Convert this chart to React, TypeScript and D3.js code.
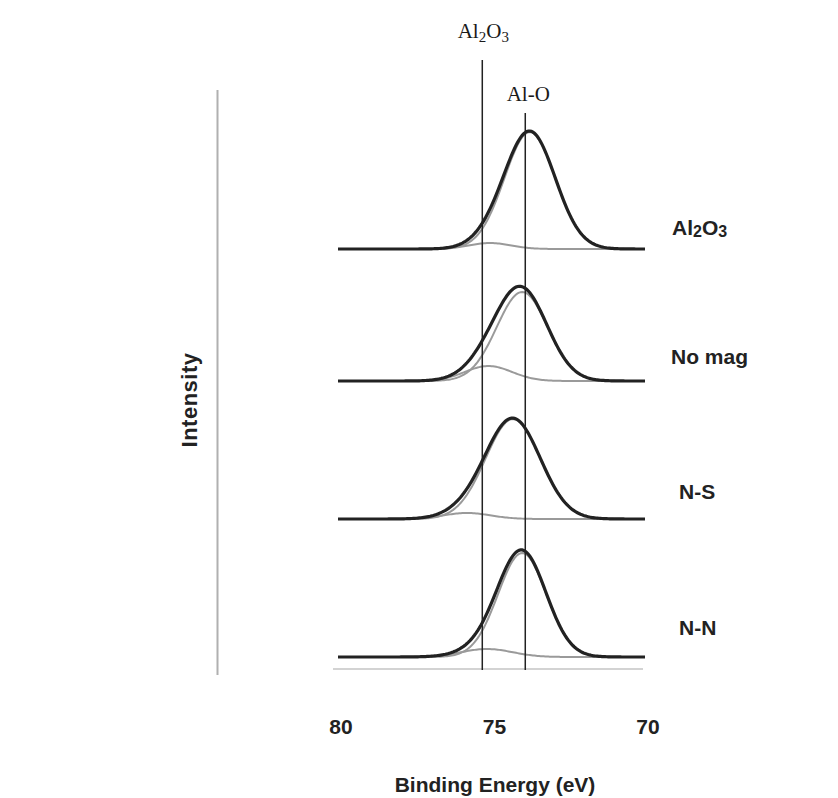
import React from "react";
import * as d3 from "d3";

// ---- data ----
const samples = ["Al2O3", "No mag", "N-S", "N-N"];
const baselineOffsets = [4.2, 2.88, 1.5, 0.12];
const mainCenters = [73.75, 74.0, 74.3, 74.0];
const mainFwhm = [1.95, 1.95, 2.1, 1.85];
const mainHeights = [1.17, 0.89, 1.0, 1.04];
const minorCenters = [75.05, 75.1, 75.8, 75.15];
const minorFwhm = [1.6, 1.8, 1.8, 1.95];
const minorHeights = [0.06, 0.15, 0.06, 0.08];
const componentStart = [76.7, 77.4, 78.1, 77.75];
const componentEnd = 70.1;
const xTicks = [80, 75, 70];
const refLabels = ["Al2O3", "Al-O"];
const refEnergies = [75.3, 73.9];
const refTops = [6.09, 5.56];

const W = 838;
const H = 798;

const x = d3.scaleLinear().domain([80, 70]).range([338, 645]);
const y = d3.scaleLinear().domain([0, 6]).range([669, 69]);

const gauss = (e: number, c: number, fwhm: number, h: number) => {
  const s = fwhm / 2.3548;
  return h * Math.exp(-0.5 * ((e - c) / s) ** 2);
};

const grid = d3.range(80, 69.99, -0.05);

const line = d3
  .line<[number, number]>()
  .x((d) => x(d[0]))
  .y((d) => y(d[1]))
  .curve(d3.curveLinear);

function Chem({ text, sub }: { text: string; sub: number }) {
  const parts = text.split(/(\d)/).filter((p) => p.length);
  return (
    <>
      {parts.map((p, i) =>
        /\d/.test(p) ? (
          <tspan key={i} fontSize={sub} dy={4}>
            {p}
          </tspan>
        ) : (
          <tspan key={i} dy={i > 0 ? -4 : 0}>
            {p}
          </tspan>
        )
      )}
    </>
  );
}

export default function App() {
  const labelY = [229, 358, 493, 629];
  const labelX = [672, 671, 679, 679];
  const sans = "Liberation Sans, Arial, sans-serif";
  return (
    <svg
      width={W}
      height={H}
      style={{ position: "absolute", left: 0, top: 0, background: "#fff" }}
    >
      {/* intensity axis line */}
      <line x1={217.5} x2={217.5} y1={90} y2={675} stroke="#b0b0b0" strokeWidth={2} />
      <text
        transform="translate(197,400) rotate(-90)"
        textAnchor="middle"
        fontFamily={sans}
        fontWeight="bold"
        fontSize={22}
        letterSpacing={0.5}
        fill="#222"
      >
        Intensity
      </text>

      {/* bottom axis line */}
      <line x1={333} x2={643} y1={y(0)} y2={y(0)} stroke="#c4c4c4" strokeWidth={1.5} />

      {samples.map((s, i) => {
        const base = baselineOffsets[i];
        const comp = grid.filter((e) => e <= componentStart[i] && e >= componentEnd);
        const mainPts: [number, number][] = comp.map((e) => [
          e,
          base + gauss(e, mainCenters[i], mainFwhm[i], mainHeights[i]),
        ]);
        const minorPts: [number, number][] = comp.map((e) => [
          e,
          base + gauss(e, minorCenters[i], minorFwhm[i], minorHeights[i]),
        ]);
        const envPts: [number, number][] = grid.map((e) => [
          e,
          base +
            gauss(e, mainCenters[i], mainFwhm[i], mainHeights[i]) +
            gauss(e, minorCenters[i], minorFwhm[i], minorHeights[i]),
        ]);
        return (
          <g key={s}>
            <path d={line(minorPts) || ""} fill="none" stroke="#9a9a9a" strokeWidth={2} />
            <path d={line(mainPts) || ""} fill="none" stroke="#9a9a9a" strokeWidth={2} />
            <path d={line(envPts) || ""} fill="none" stroke="#222" strokeWidth={3.2} />
          </g>
        );
      })}

      {/* reference lines */}
      {refEnergies.map((e, i) => (
        <line
          key={i}
          x1={x(e)}
          x2={x(e)}
          y1={y(refTops[i])}
          y2={y(-0.01)}
          stroke="#222"
          strokeWidth={1.5}
        />
      ))}
      {refLabels.map((l, i) => (
        <text
          key={l}
          x={x(refEnergies[i]) + (i === 0 ? 1 : 3)}
          y={y(refTops[i]) - (i === 0 ? 22 : 12)}
          textAnchor="middle"
          fontFamily="Liberation Serif, Times New Roman, serif"
          fontSize={21}
          fill="#1a1a1a"
        >
          <Chem text={l} sub={15} />
        </text>
      ))}

      {/* sample labels */}
      {samples.map((s, i) => (
        <text
          key={s}
          x={labelX[i]}
          y={labelY[i]}
          dominantBaseline="middle"
          fontFamily={sans}
          fontWeight="bold"
          fontSize={21}
          fill="#222"
        >
          <Chem text={s} sub={16} />
        </text>
      ))}

      {/* x tick labels */}
      {xTicks.map((t) => (
        <text
          key={t}
          x={x(t) + 3}
          y={734}
          textAnchor="middle"
          fontFamily={sans}
          fontWeight="bold"
          fontSize={21}
          fill="#222"
        >
          {t}
        </text>
      ))}
      <text
        x={495}
        y={792}
        textAnchor="middle"
        fontFamily={sans}
        fontWeight="bold"
        fontSize={21}
        fill="#222"
      >
        Binding Energy (eV)
      </text>
    </svg>
  );
}
